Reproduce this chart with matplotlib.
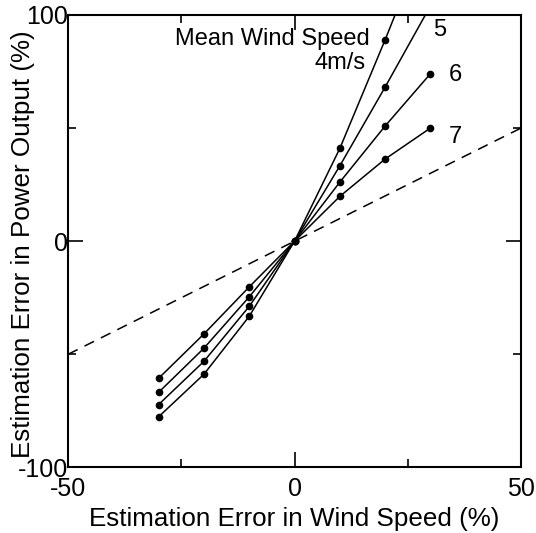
import matplotlib.pyplot as plt

plt.rcParams['font.family'] = ['Liberation Sans', 'DejaVu Sans']
plt.rcParams['axes.unicode_minus'] = False

# wind speed estimation error (%)
x = [-30, -20, -10, 0, 10, 20, 30]
# power output estimation error (%) for each mean wind speed
ws4 = [-77.6, -58.8, -33.2, 0, 41.0, 89.0, 139.0]
ws5 = [-72.2, -53.1, -28.8, 0, 33.3, 68.1, 104.0]
ws6 = [-66.8, -47.3, -24.6, 0, 26.1, 50.9, 74.0]
ws7 = [-60.6, -41.0, -20.2, 0, 19.8, 36.3, 50.0]
ref_x = [-50, 50]
ref_y = [-50, 50]

fig = plt.figure(figsize=(5.36, 5.33), dpi=100)
ax = fig.add_axes([0.127, 0.123, 0.845, 0.849])

ax.plot(ref_x, ref_y, color="black", lw=1.1, ls=(0, (7, 5)))
for s in [ws4, ws5, ws6, ws7]:
    ax.plot(x, s, color="black", lw=1.1, marker="o", markersize=4.5)

ax.set_xlim(-50, 50)
ax.set_ylim(-100, 100)
ax.set_xticks([-50, 0, 50])
ax.set_yticks([-100, 0, 100])
ax.set_xticks([-25, 25], minor=True)
ax.set_yticks([-50, 50], minor=True)
ax.tick_params(which="both", direction="in", top=True, right=True, width=1.2)
ax.tick_params(which="major", length=11, labelsize=18)
ax.tick_params(axis="x", which="major", pad=7)
ax.tick_params(axis="y", which="major", pad=0)
ax.tick_params(which="minor", length=6)
for sp in ax.spines.values():
    sp.set_linewidth(1.5)

ax.set_xlabel("Estimation Error in Wind Speed (%)", fontsize=18.7, labelpad=4)
ax.set_ylabel("Estimation Error in Power Output (%)", fontsize=18.7)
ax.yaxis.set_label_coords(-0.073, 0.494)

ax.text(-26.5, 89.5, "Mean Wind Speed", fontsize=17, va="center", ha="left")
ax.text(15.6, 78.8, "4m/s", fontsize=17, va="center", ha="right")
ax.text(30.5, 93.5, "5", fontsize=17, va="center", ha="left")
ax.text(34, 73.5, "6", fontsize=17, va="center", ha="left")
ax.text(34, 46, "7", fontsize=17, va="center", ha="left")

plt.savefig("out.png", dpi=100)
